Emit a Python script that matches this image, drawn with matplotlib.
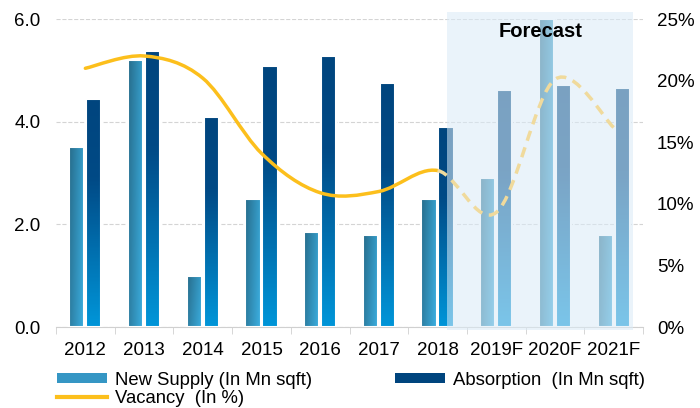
import matplotlib.pyplot as plt
import numpy as np
from matplotlib.colors import LinearSegmentedColormap
from matplotlib.patches import Rectangle, Patch
from matplotlib.lines import Line2D
from matplotlib.path import Path
from matplotlib.patches import PathPatch
from matplotlib.ticker import FuncFormatter

plt.rcParams['font.family'] = ['Liberation Sans', 'DejaVu Sans']

years = ["2012", "2013", "2014", "2015", "2016", "2017", "2018", "2019F", "2020F", "2021F"]
new_supply = [3.5, 5.2, 1.0, 2.5, 1.85, 1.8, 2.5, 2.9, 6.0, 1.8]
absorption = [4.45, 5.38, 4.1, 5.08, 5.28, 4.75, 3.9, 4.62, 4.72, 4.65]
vacancy = [21.0, 22.0, 20.2, 14.1, 10.9, 11.0, 12.7, 9.3, 20.1, 16.2]
first_forecast = 6  # vacancy line turns dashed after 2018

ns_cmap = LinearSegmentedColormap.from_list("ns", ["#276d8c", "#3cb0e2"])
ab_cmap = LinearSegmentedColormap.from_list("ab", [(0, "#00457e"), (0.35, "#004a86"), (1, "#0095d8")])

fig = plt.figure(figsize=(7, 4.08), dpi=100)
ax = fig.add_axes([0.08, 0.1985, 0.8386, 0.7549])
ax2 = ax.twinx()

w = 0.26
off = 0.145
gx, gy = np.meshgrid(np.linspace(0, 1, 20), np.linspace(0, 1, 60))
ns_img = 0.75 * gx + 0.25 * gy
ab_img = gy

for i in range(len(years)):
    for x, h, img, cmap in [(i - off, new_supply[i], ns_img, ns_cmap), (i + off, absorption[i], ab_img, ab_cmap)]:
        ax.imshow(img, cmap=cmap, extent=[x - w / 2, x + w / 2, 0, h], aspect='auto', zorder=2, origin='upper')
        ax.add_patch(Rectangle((x - w / 2, 0), w, h, fill=False, ec='white', lw=1.5, zorder=3))

# forecast shading
ax.add_patch(Rectangle((6.16, -0.06), 3.17, 6.2, fc='#dbebf7', alpha=0.56, ec='none', zorder=5, clip_on=False))
ax.text(7.75, 5.75, "Forecast", ha='center', va='center', fontsize=14.5, fontweight='bold', zorder=6)

ax.set_xlim(-0.5, len(years) - 0.5)
ax.set_ylim(0, 6)
ax.set_yticks([0, 2, 4, 6])
ax.yaxis.set_major_formatter(FuncFormatter(lambda v, p: f"{v:.1f}"))
ax.set_xticks(range(len(years)))
ax.set_xticklabels(years)
ax.set_xticks(np.arange(-0.5, len(years)), minor=True)
ax.tick_params(axis='x', which='major', length=0, labelsize=13.5, pad=11)
ax.tick_params(axis='x', which='minor', length=5, color='#d0d0d0')
ax.tick_params(axis='y', length=0, labelsize=13.5, pad=11)
ax.grid(axis='y', ls='--', color='#d4d4d4', lw=0.8, zorder=0)
ax.set_axisbelow(True)
for s in ['top', 'left', 'right']:
    ax.spines[s].set_visible(False)
    ax2.spines[s].set_visible(False)
ax.spines['bottom'].set_color('#d0d0d0')
ax2.spines['bottom'].set_visible(False)

# smoothed vacancy line (Bezier through data points)
xs = np.arange(len(vacancy), dtype=float)
ys = np.array(vacancy, dtype=float)
def seg_path(a, b):
    verts = [(xs[a], ys[a])]
    codes = [Path.MOVETO]
    for i in range(a, b):
        p0 = max(i - 1, 0)
        p3 = min(i + 2, len(xs) - 1)
        c1 = (xs[i] + (xs[i + 1] - xs[p0]) / 6, ys[i] + (ys[i + 1] - ys[p0]) / 6)
        c2 = (xs[i + 1] - (xs[p3] - xs[i]) / 6, ys[i + 1] - (ys[p3] - ys[i]) / 6)
        verts += [c1, c2, (xs[i + 1], ys[i + 1])]
        codes += [Path.CURVE4] * 3
    return Path(verts, codes)

ax2.add_patch(PathPatch(seg_path(0, first_forecast), fill=False, ec='#fcbf1c', lw=2.5, capstyle='round'))
ax2.add_patch(PathPatch(seg_path(first_forecast, len(xs) - 1), fill=False, ec='#f0da9c', lw=2.5, ls=(0, (3, 2))))
ax2.set_ylim(0, 25)
ax2.set_yticks([0, 5, 10, 15, 20, 25])
ax2.yaxis.set_major_formatter(FuncFormatter(lambda v, p: f"{v:.0f}%"))
ax2.tick_params(axis='y', length=0, labelsize=13.5, pad=10)

handles = [Patch(fc='#3596c4', ec='none'), Line2D([], [], color='#fcbf1c', lw=3),
           Patch(fc='#00457e', ec='none')]
labels = ["New Supply (In Mn sqft)", "Vacancy  (In %)", "Absorption  (In Mn sqft)"]
fig.legend(handles, labels, ncol=2, loc='upper left', bbox_to_anchor=(0.081, 0.089), frameon=False,
           fontsize=13.3, handlelength=2.7, handleheight=0.45, labelspacing=0.08, columnspacing=4.5,
           handletextpad=0.45, borderaxespad=0, borderpad=0)

fig.savefig("out.png", dpi=100)
